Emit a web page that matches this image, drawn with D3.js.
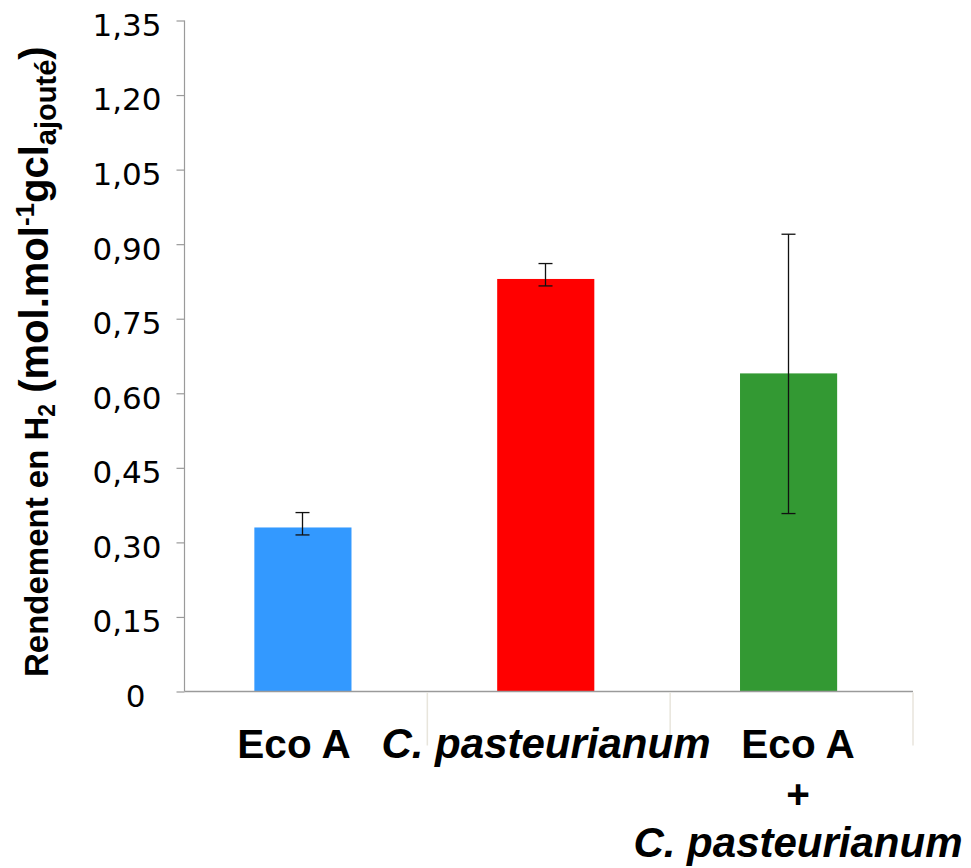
<!DOCTYPE html>
<html>
<head>
<meta charset="utf-8">
<script src="https://cdn.jsdelivr.net/npm/d3@7"></script>
<style>
  html, body { margin: 0; padding: 0; background: #fff; }
  svg { display: block; }
</style>
</head>
<body>
<svg id="chart" width="971" height="868"></svg>
<script>
// ---- data ----
const categories = ["Eco A", "C. pasteurianum", "Eco A + C. pasteurianum"];
const labelLines = [["Eco A"], ["C. pasteurianum"], ["Eco A", "+", "C. pasteurianum"]];
const italicLines = [[false], [true], [false, false, true]];
const values = [0.33, 0.83, 0.64];
const errLow = [0.315, 0.816, 0.358];
const errHigh = [0.36, 0.861, 0.92];
const barColors = ["#3399ff", "#ff0000", "#339933"];
const yTicks = [0, 0.15, 0.30, 0.45, 0.60, 0.75, 0.90, 1.05, 1.20, 1.35];
const yMax = 1.35;

(function () {
// ---- layout ----
const svg = d3.select("#chart");
const mLeft = 184.5, mRight = 913, mTop = 20.5, mBottom = 691.5;

const x = d3.scaleBand().domain(categories).range([mLeft, mRight]).padding(0);
const y = d3.scaleLinear().domain([0, yMax]).range([mBottom, mTop]);
// label centres (Excel places the wrapped labels on a slightly wider spread)
const xLab = d3.scalePoint().domain(categories).range([294, 798]);

const barW = x.bandwidth() * 0.4;

// bars
svg.append("g").selectAll("rect")
  .data(categories)
  .join("rect")
  .attr("x", d => x(d) + x.bandwidth() / 2 - barW / 2 - 3)
  .attr("y", (d, i) => y(values[i]))
  .attr("width", barW)
  .attr("height", (d, i) => y(0) - y(values[i]))
  .attr("fill", (d, i) => barColors[i]);

// error bars
const eg = svg.append("g").attr("stroke", "#111").attr("stroke-width", 1.3);
categories.forEach((c, i) => {
  const cx = Math.round(x(c) + x.bandwidth() / 2 - 4) + 0.5;
  eg.append("line").attr("x1", cx).attr("x2", cx).attr("y1", y(errLow[i])).attr("y2", y(errHigh[i]));
  eg.append("line").attr("x1", cx - 7).attr("x2", cx + 7).attr("y1", y(errLow[i])).attr("y2", y(errLow[i]));
  eg.append("line").attr("x1", cx - 7).attr("x2", cx + 7).attr("y1", y(errHigh[i])).attr("y2", y(errHigh[i]));
});

// y axis
const fmt = v => v === 0 ? "0" : d3.format(".2f")(v).replace(".", ",");
const yAxis = svg.append("g")
  .attr("transform", `translate(${mLeft},0)`)
  .call(d3.axisLeft(y).tickValues(yTicks).tickFormat(fmt).tickSize(8).tickPadding(15));
yAxis.select(".domain").attr("stroke", "#9a9a9a").attr("stroke-width", 1.2).attr("d", `M0,${mTop}V${mBottom}`);
yAxis.selectAll(".tick line").attr("stroke", "#9a9a9a").attr("stroke-width", 1.2);
yAxis.selectAll(".tick text")
  .attr("font-family", "'DejaVu Sans', sans-serif")
  .attr("font-size", 31)
  .attr("fill", "#000")
  .attr("dy", "0.48em")
  .attr("dx", d => d === 0 ? -16 : 0);

// x axis line
svg.append("line")
  .attr("x1", mLeft).attr("x2", mRight)
  .attr("y1", mBottom).attr("y2", mBottom)
  .attr("stroke", "#9a9a9a").attr("stroke-width", 1.5);

// category separators
svg.append("g").selectAll("line")
  .data(categories)
  .join("line")
  .attr("x1", d => x(d) + x.bandwidth())
  .attr("x2", d => x(d) + x.bandwidth())
  .attr("y1", mBottom + 1)
  .attr("y2", mBottom + 54)
  .attr("stroke", "#e8e5dc").attr("stroke-width", 1.5);

// x labels
const xl = svg.append("g")
  .attr("font-family", "'Liberation Sans', Arial, sans-serif")
  .attr("font-weight", "bold")
  .attr("fill", "#000")
  .attr("text-anchor", "middle");
categories.forEach((c, i) => {
  const t = xl.append("text")
    .attr("x", xLab(c))
    .attr("y", 758);
  labelLines[i].forEach((line, j) => {
    t.append("tspan")
      .attr("x", xLab(c))
      .attr("dy", j === 0 ? 0 : 49.5)
      .attr("font-size", italicLines[i][j] ? 42 : 40.5)
      .attr("font-style", italicLines[i][j] ? "italic" : "normal")
      .text(line);
  });
});

// y axis title
const yt = svg.append("text")
  .attr("transform", "translate(48,677) rotate(-90)")
  .attr("text-anchor", "start")
  .attr("font-family", "'Liberation Sans', Arial, sans-serif")
  .attr("font-weight", "bold")
  .attr("font-size", 33)
  .attr("fill", "#000");
yt.append("tspan").text("Rendement en H");
yt.append("tspan").attr("font-size", 23).attr("dy", 7).text("2");
yt.append("tspan").attr("font-size", 40).attr("dy", -7).text(" (mol.mol");
yt.append("tspan").attr("font-size", 26).attr("dy", -14).text("-1");
yt.append("tspan").attr("font-size", 40).attr("dy", 14).text("gcl");
yt.append("tspan").attr("font-size", 29).attr("dy", 8).text("ajouté");
yt.append("tspan").attr("font-size", 40).attr("dy", -8).text(")");
})();
</script>
</body>
</html>
